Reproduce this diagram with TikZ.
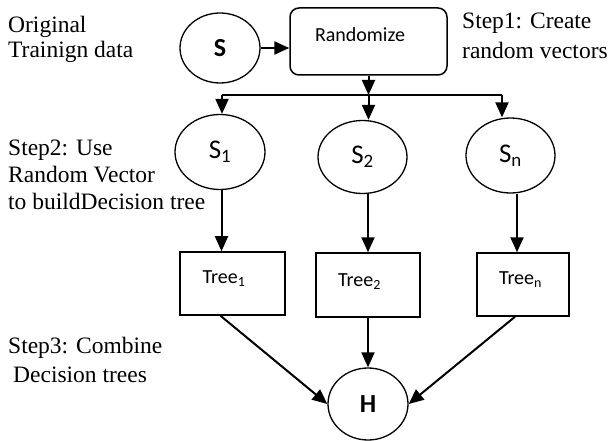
\documentclass[tikz,border=0pt]{standalone}
\usepackage{fontspec}
\setmainfont{Liberation Serif}
\newfontfamily\calib{Carlito}
\usetikzlibrary{arrows.meta,shapes.geometric}
\begin{document}
\begin{tikzpicture}[x=1pt,y=-1pt,
  ell/.style={draw, ellipse, line width=1.3pt, inner sep=0pt},
  tbox/.style={draw, rectangle, line width=1.5pt, inner sep=0pt},
  arr/.style={line width=2pt, -{Triangle[length=15pt,width=13pt]}},
  ln/.style={line width=2pt},
  side/.style={font=\fontsize{23.5}{27}\selectfont, align=left, anchor=north west, inner sep=0pt},
  lbl/.style={inner sep=0pt, anchor=base}]
\useasboundingbox (0,0) rectangle (611,441);

% side texts
\node[side] (orig) at (8,16) {Original\\[-2pt]Trainign data};
\node[side] (step1) at (462,13) {Step1: Create\\[3pt]random vectors};
\node[side] (step2) at (8,140) {Step2: Use\\Random Vector\\to buildDecision tree};
\node[side] (step3) at (8,337) {Step3: Combine\\[2pt]\hspace{5pt}Decision trees};

% top row
\node[ell, minimum width=80pt, minimum height=70pt, font=\calib\bfseries\fontsize{26}{30}\selectfont] (s) at (220,48) {S};
\node[draw, rounded corners=9pt, line width=1.5pt, minimum width=157pt, minimum height=67pt, inner sep=0pt] (rand) at (368.5,41.5) {};
\node[lbl, font=\calib\fontsize{20}{24}\selectfont] (randtxt) at (360,41.5) {Randomize};

% samples
\node[ell, minimum width=90pt, minimum height=75pt, font=\calib\fontsize{27}{30}\selectfont] (s1) at (220,152) {S\textsubscript{1}};
\node[ell, minimum width=89pt, minimum height=73pt, font=\calib\fontsize{27}{30}\selectfont] (s2) at (362.5,157) {S\textsubscript{2}};
\node[ell, minimum width=89pt, minimum height=75pt, font=\calib\fontsize{27}{30}\selectfont] (sn) at (510.5,155.5) {S\textsubscript{n}};

% trees
\node[tbox, minimum width=105pt, minimum height=63pt] (t1) at (232.5,283.5) {};
\node[tbox, minimum width=104pt, minimum height=64pt] (t2) at (368,285) {};
\node[tbox, minimum width=92pt, minimum height=63pt] (tn) at (523,284.5) {};
\node[lbl, font=\calib\fontsize{20}{24}\selectfont] (t1txt) at (224,283.3) {Tree\textsubscript{1}};
\node[lbl, font=\calib\fontsize{20}{24}\selectfont] (t2txt) at (359.5,286) {Tree\textsubscript{2}};
\node[lbl, font=\calib\fontsize{20}{24}\selectfont] (tntxt) at (520.5,284) {Tree\textsubscript{n}};

% result
\node[ell, minimum width=80pt, minimum height=72pt, font=\calib\bfseries\fontsize{26}{30}\selectfont] (h) at (368,404) {H};

% connectors
\coordinate (busL) at (222,95);
\coordinate (busM) at (368.5,95);
\coordinate (busR) at (502,95);
\draw[arr] (s.east) -- (s.east -| rand.west);
\draw[arr] (rand.south) -- (busM);
\draw[ln] (busL) -- (busR);
\draw[arr] (busL) -- (busL |- s1.north);
\draw[arr] (busM) -- (busM |- s2.north);
\draw[arr] (busR) -- (busR |- sn.north);

\draw[arr] ([xshift=-11pt]t1.north |- s1.south) -- ([xshift=-11pt]t1.north);
\draw[arr] (s2.south -| t2.north) -- (t2.north);
\draw[arr] ([xshift=-6pt]tn.north |- sn.south) -- ([xshift=-6pt]tn.north);

\draw[arr] ([xshift=-12pt]t1.south) -- (h.west);
\draw[arr] (t2.south) -- (h.north);
\draw[arr] ([xshift=-8pt]tn.south) -- (h.east);
\end{tikzpicture}
\end{document}
